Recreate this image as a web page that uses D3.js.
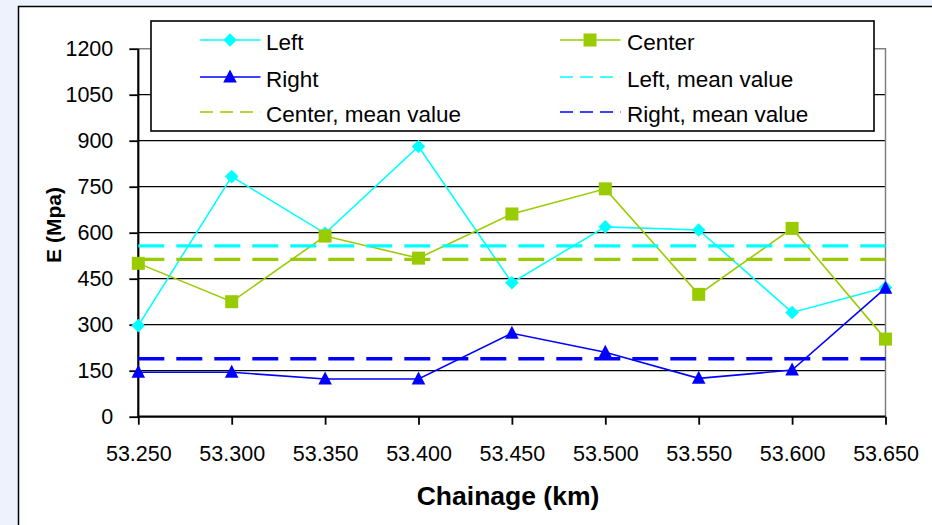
<!DOCTYPE html>
<html><head><meta charset="utf-8">
<script src="https://cdn.jsdelivr.net/npm/d3@7"></script>
<style>
body{margin:0;background:#EDF3FC;}
svg{display:block;font-family:"Liberation Sans",Arial,sans-serif;}
</style>
</head><body>
<svg id="chart" width="932" height="525"></svg>
<script>
// ---- data ----
const chainage = [53.25, 53.30, 53.35, 53.40, 53.45, 53.50, 53.55, 53.60, 53.65];
const xTickLabels = ["53.250","53.300","53.350","53.400","53.450","53.500","53.550","53.600","53.650"];
const yTickValues = [0, 150, 300, 450, 600, 750, 900, 1050, 1200];
const leftValues   = [297, 783, 598, 881, 437, 619, 609, 340, 421];
const centerValues = [500, 375, 589, 517, 661, 743, 399, 614, 253];
const rightValues  = [145, 145, 123, 123, 272, 210, 125, 152, 419];
const meanNames  = ["Left, mean value", "Center, mean value", "Right, mean value"];
const meanValues = [557, 513, 189];
const seriesNames = ["Left", "Center", "Right"];
const colors = ["#00FFFF", "#99CC00", "#0000FF"];
const xTitle = "Chainage (km)";
const yTitle = "E (Mpa)";

// ---- layout ----
const svg = d3.select("#chart");
const X0 = 138.3, X1 = 885.5, Y0 = 416.7, Y1 = 48.7;
const x = d3.scaleLinear().domain([53.25, 53.65]).range([X0, X1]);
const y = d3.scaleLinear().domain([0, 1200]).range([Y0, Y1]);

// outer white frame
svg.append("rect").attr("x", 18.5).attr("y", 6.5).attr("width", 940).attr("height", 540)
  .attr("fill", "#fff").attr("stroke", "#000").attr("stroke-width", 1.5);

// gridlines
svg.append("g").selectAll("line").data(yTickValues.filter(v => v > 0 && v < 1200)).join("line")
  .attr("x1", X0).attr("x2", X1).attr("y1", d => y(d)).attr("y2", d => y(d))
  .attr("stroke", "#000").attr("stroke-width", 1.3);
// plot area border (top/right) gray
svg.append("path").attr("d", `M${X0},${y(1200)}H${X1}V${Y0}`)
  .attr("fill", "none").attr("stroke", "#808080").attr("stroke-width", 1.5);

// axes
const yAxis = d3.axisLeft(y).tickValues(yTickValues).tickSize(9).tickPadding(16).tickFormat(d3.format("d"));
const gy = svg.append("g").attr("transform", `translate(${X0},0)`).call(yAxis);
const xAxis = d3.axisBottom(x).tickValues(chainage).tickSize(8).tickPadding(21)
  .tickFormat((d, i) => xTickLabels[i]);
const gx = svg.append("g").attr("transform", `translate(0,${Y0})`).call(xAxis);
[gx, gy].forEach(g => {
  g.select(".domain").attr("stroke", "#000").attr("stroke-width", 2.2);
  g.selectAll(".tick line").attr("stroke", "#000").attr("stroke-width", 1.8);
  g.selectAll(".tick text").attr("fill", "#000").attr("font-size", 21.5)
    .attr("font-family", '"Liberation Sans",Arial,sans-serif');
});
gy.select(".domain").attr("d", `M0,${Y1}V${Y0 + 1}`);
gx.select(".domain").attr("d", `M${X0 - 1},0H${X1}`);

// titles
svg.append("text").attr("x", 508).attr("y", 505).attr("text-anchor", "middle")
  .attr("font-size", 26.5).attr("font-weight", "bold").text(xTitle);
svg.append("text").attr("transform", "translate(61,225) rotate(-90)").attr("text-anchor", "middle")
  .attr("font-size", 21).attr("font-weight", "bold").text(yTitle);

// marker shapes
function marker(sel, type, color) {
  if (type === 0) sel.append("path").attr("d", "M0,-6.8L6.8,0L0,6.8L-6.8,0Z").attr("fill", color);
  else if (type === 1) sel.append("rect").attr("x", -6.5).attr("y", -6.5).attr("width", 13).attr("height", 13).attr("fill", color);
  else sel.append("path").attr("d", "M0,-7.5L6.8,5.5L-6.8,5.5Z").attr("fill", color);
}

const allSeries = [leftValues, centerValues, rightValues];
const line = d3.line().x((d, i) => x(chainage[i])).y(d => y(d));
allSeries.forEach((vals, s) => {
  const g = svg.append("g");
  g.append("path").attr("d", line(vals)).attr("fill", "none")
    .attr("stroke", colors[s]).attr("stroke-width", 1.6);
  vals.forEach((v, i) => {
    const m = g.append("g").attr("transform", `translate(${x(chainage[i])},${y(v)})`);
    marker(m, s, colors[s]);
  });
});

// mean lines
meanValues.forEach((v, s) => {
  svg.append("line").attr("x1", X0).attr("x2", X1).attr("y1", y(v)).attr("y2", y(v))
    .attr("stroke", colors[s]).attr("stroke-width", 3.4).attr("stroke-dasharray", "26 12");
});

// legend
const lg = svg.append("g");
lg.append("rect").attr("x", 151).attr("y", 21).attr("width", 723).attr("height", 110)
  .attr("fill", "#fff").attr("stroke", "#000").attr("stroke-width", 1.6);
const legendItems = [
  {name: seriesNames[0], s: 0, dashed: false},
  {name: seriesNames[1], s: 1, dashed: false},
  {name: seriesNames[2], s: 2, dashed: false},
  {name: meanNames[0], s: 0, dashed: true},
  {name: meanNames[1], s: 1, dashed: true},
  {name: meanNames[2], s: 2, dashed: true}
];
const colX = [200, 560], textX = [266, 627], rowY = [40, 77, 112];
legendItems.forEach((it, k) => {
  const c = k % 2, r = Math.floor(k / 2);
  const g = lg.append("g");
  g.append("line").attr("x1", colX[c]).attr("x2", colX[c] + 60.5).attr("y1", rowY[r]).attr("y2", rowY[r])
    .attr("stroke", colors[it.s]).attr("stroke-width", 1.6)
    .attr("stroke-dasharray", it.dashed ? "13 7" : null);
  if (!it.dashed) {
    const m = g.append("g").attr("transform", `translate(${colX[c] + 30},${rowY[r]})`);
    marker(m, it.s, colors[it.s]);
  }
  g.append("text").attr("x", textX[c]).attr("y", rowY[r] + 10).attr("font-size", 22.5).text(it.name);
});
</script>
</body></html>
